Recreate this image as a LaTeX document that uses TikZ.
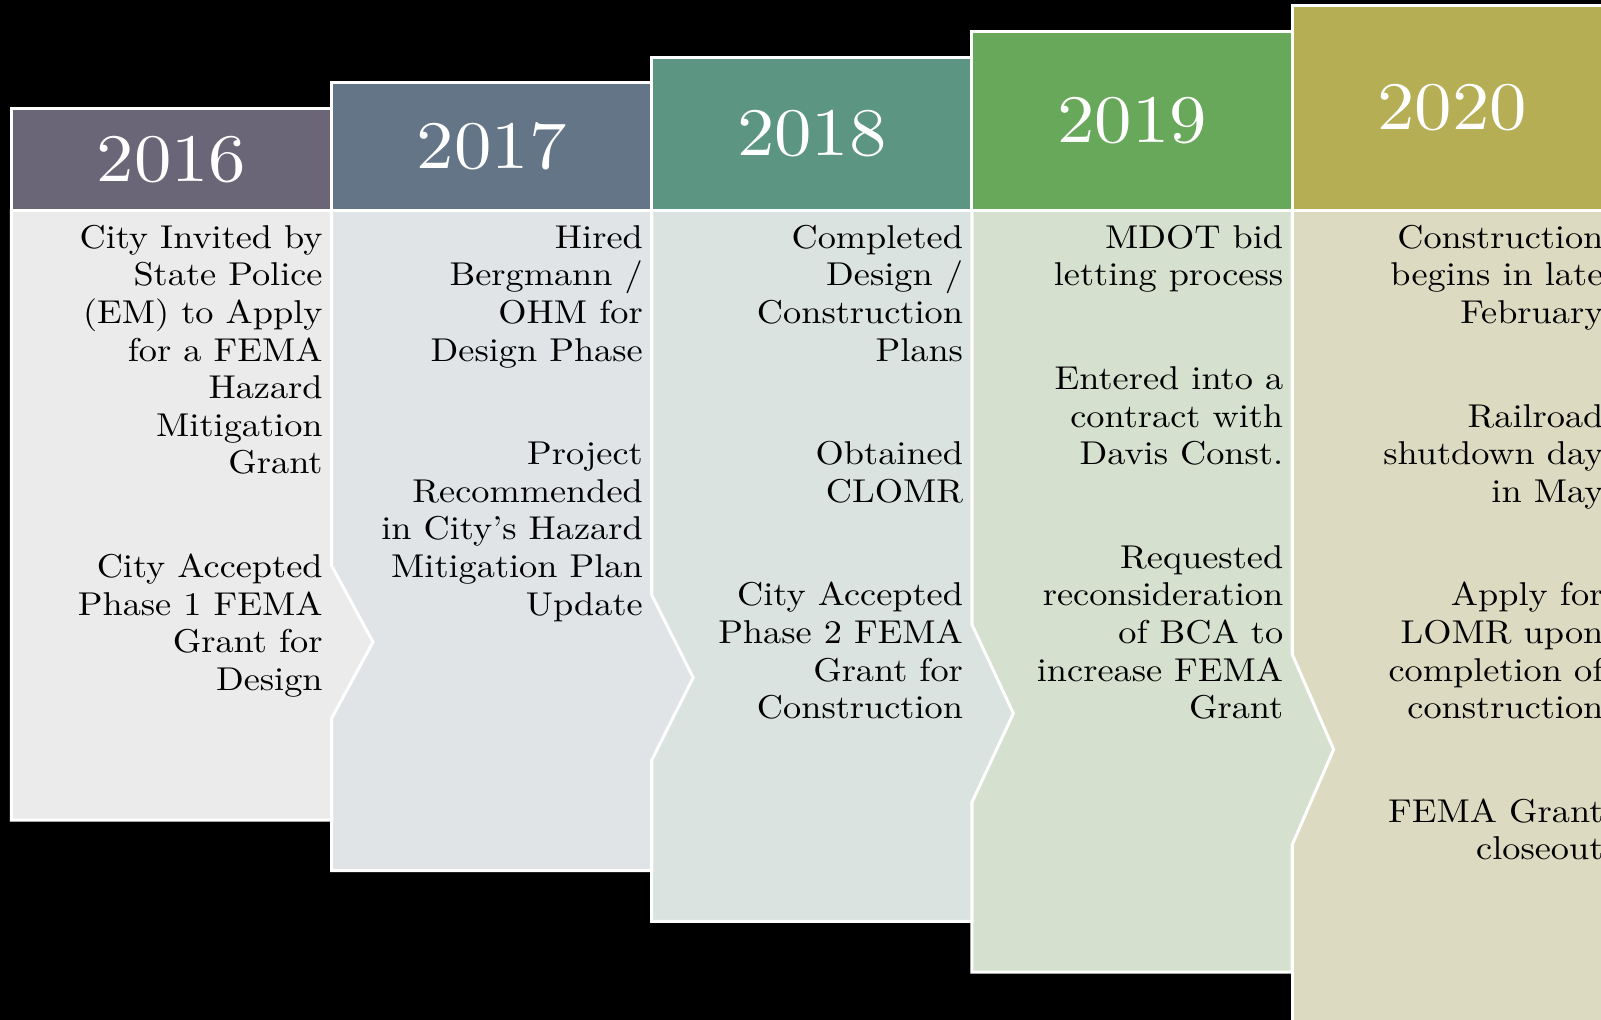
\documentclass[tikz,border=0pt]{standalone}
\usepackage{fontspec}
% the 10pt cut of Latin Modern, a little wider
\setmainfont{lmroman10-regular.otf}[FakeStretch=1.1]

\definecolor{headA}{HTML}{6B6677}
\definecolor{headB}{HTML}{637587}
\definecolor{headC}{HTML}{5C9582}
\definecolor{headD}{HTML}{68A85A}
\definecolor{headE}{HTML}{B5AE55}
\definecolor{bodyA}{HTML}{EBEBEB}
\definecolor{bodyB}{HTML}{E1E4E7}
\definecolor{bodyC}{HTML}{DAE3E0}
\definecolor{bodyD}{HTML}{D5E0CF}
\definecolor{bodyE}{HTML}{DCDBC2}

\tikzset{
	panel/.style={draw=white, line width=3pt, line join=miter},
	yeartext/.style={text=white, inner sep=0pt, font=\fontsize{68}{68}\selectfont},
	itemtext/.style={text=black, inner sep=0pt, align=right, anchor=north east,
		font=\fontsize{33}{37.6}\selectfont}
}
% space between two items of one year
\def\itemgap{66pt}

\begin{document}
\begin{tikzpicture}[x=1pt, y=-1pt]
			%%%%% START %%%%%
			\useasboundingbox (0, 0) rectangle (1601, 1020);
			\fill[black] (0, 0) rectangle (1601, 1020);
			\clip (0, 0) rectangle (1601, 1020);
			
			% 2020, runs off the page
			\draw[panel, fill=bodyE] (1292.1, 210) rectangle (1612.3, 1022.8);
			\draw[panel, fill=headE] (1292.1, 5.9) rectangle (1612.3, 210);
			
			% 2019
			\draw[panel, fill=bodyD] (971.9, 210) -- (1292.1, 210) -- (1292.1, 654) -- (1333.6, 749.5)
				-- (1292.1, 845) -- (1292.1, 972.1) -- (971.9, 972.1) -- cycle;
			\draw[panel, fill=headD] (971.9, 31.5) rectangle (1292.1, 210);
			
			% 2018
			\draw[panel, fill=bodyC] (651.7, 210) -- (971.9, 210) -- (971.9, 624.5) -- (1013.4, 713.4)
				-- (971.9, 802.3) -- (971.9, 921.4) -- (651.7, 921.4) -- cycle;
			\draw[panel, fill=headC] (651.7, 57.1) rectangle (971.9, 210);
			
			% 2017
			\draw[panel, fill=bodyB] (331.5, 210) -- (651.7, 210) -- (651.7, 595) -- (693.2, 677.6)
				-- (651.7, 760.2) -- (651.7, 870.7) -- (331.5, 870.7) -- cycle;
			\draw[panel, fill=headB] (331.5, 82.7) rectangle (651.7, 210);
			
			% 2016
			\draw[panel, fill=bodyA] (11.3, 210) -- (331.5, 210) -- (331.5, 565.5) -- (373, 642)
				-- (331.5, 718.5) -- (331.5, 820) -- (11.3, 820) -- cycle;
			\draw[panel, fill=headA] (11.3, 108.3) rectangle (331.5, 210);
			
			% years
			\node[yeartext] (y2016) at (171.4, 159.2) {2016};
			\node[yeartext] (y2017) at (491.6, 146.4) {2017};
			\node[yeartext] (y2018) at (811.8, 133.6) {2018};
			\node[yeartext] (y2019) at (1132, 120.8) {2019};
			\node[yeartext] (y2020) at (1452.2, 108) {2020};
			
			% what happened each year (the strut fixes the top of the first line)
			\node[itemtext] (i2016) at (322.8, 221.7) {\strut City Invited by\\State Police\\(EM) to Apply\\for a FEMA\\Hazard\\Mitigation\\Grant\\[\itemgap]City Accepted\\Phase 1 FEMA\\Grant for\\Design};
			\node[itemtext] (i2017) at (643, 221.7) {\strut Hired\\Bergmann /\\OHM for\\Design Phase\\[\itemgap]Project\\Recommended\\in City’s Hazard\\Mitigation Plan\\Update};
			\node[itemtext] (i2018) at (963.2, 221.7) {\strut Completed\\Design /\\Construction\\Plans\\[\itemgap]Obtained\\CLOMR\\[\itemgap]City Accepted\\Phase 2 FEMA\\Grant for\\Construction};
			\node[itemtext] (i2019) at (1283.4, 221.7) {\strut MDOT bid\\letting process\\[\itemgap]Entered into a\\contract with\\Davis Const.\\[\itemgap]Requested\\reconsideration\\of BCA to\\increase FEMA\\Grant};
			\node[itemtext] (i2020) at (1603.6, 221.7) {\strut Construction\\begins in late\\February\\[\itemgap]Railroad\\shutdown day\\in May\\[\itemgap]Apply for\\LOMR upon\\completion of\\construction\\[\itemgap]FEMA Grant\\closeout};
			
			%%%%% END %%%%%
\end{tikzpicture}
\end{document}
